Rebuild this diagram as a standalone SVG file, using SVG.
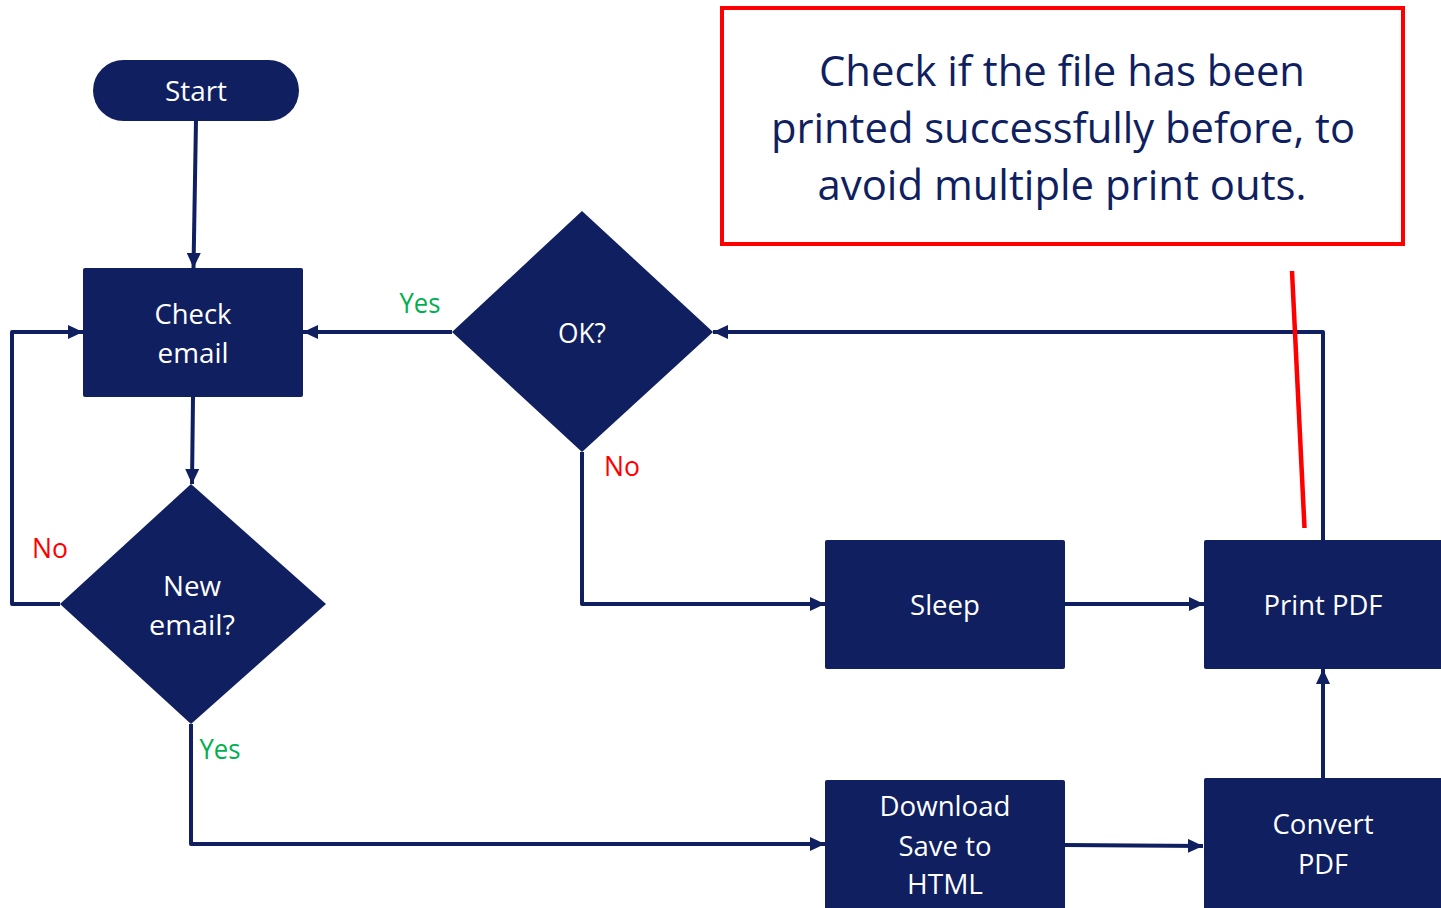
<svg xmlns="http://www.w3.org/2000/svg" width="1441" height="908" viewBox="0 0 1441 908">
<defs>
<style>
.n{fill:#101F5F}
.t{fill:#FFFFFF;font-family:"Open Sans","Noto Sans",sans-serif;font-size:28px;text-anchor:middle;dominant-baseline:central}
.c{fill:none;stroke:#101F5F;stroke-width:4;stroke-linejoin:round}
.g{fill:#00B050;font-family:"Open Sans","Noto Sans",sans-serif;font-size:27px;text-anchor:middle;dominant-baseline:central}
.r{fill:#FF0000;font-family:"Open Sans","Noto Sans",sans-serif;font-size:27px;text-anchor:middle;dominant-baseline:central}
.ct{fill:#101F5F;font-family:"Open Sans","Noto Sans",sans-serif;font-size:42px;text-anchor:middle;dominant-baseline:central}
</style>
<marker id="a" markerUnits="userSpaceOnUse" markerWidth="15" markerHeight="14" refX="15" refY="7" orient="auto">
<path d="M0,0 L15,7 L0,14 z" fill="#101F5F"/>
</marker>
</defs>
<rect width="1441" height="908" fill="#FFFFFF"/>

<g id="connectors">
<path class="c" d="M196,120 L193.5,268" marker-end="url(#a)"/>
<path class="c" d="M193,397 L192,484" marker-end="url(#a)"/>
<path class="c" d="M60,604 L12,604 L12,332 L83,332" marker-end="url(#a)"/>
<path class="c" d="M191,724 L191,844 L825,844" marker-end="url(#a)"/>
<path class="c" d="M452,332 L303,332" marker-end="url(#a)"/>
<path class="c" d="M582,452 L582,604 L825,604" marker-end="url(#a)"/>
<path class="c" d="M1065,604 L1204,604" marker-end="url(#a)"/>
<path class="c" d="M1323,540 L1323,332 L713,332" marker-end="url(#a)"/>
<path class="c" d="M1065,845 L1203,846" marker-end="url(#a)"/>
<path class="c" d="M1323,778 L1323,669" marker-end="url(#a)"/>
</g>

<g id="start">
<rect class="n" x="93" y="60" width="206" height="61" rx="30.5"/>
<text class="t" x="196" y="90" textLength="62" lengthAdjust="spacingAndGlyphs">Start</text>
</g>
<g id="check-email">
<rect class="n" x="83" y="268" width="220" height="129" rx="2"/>
<text class="t" x="193" y="313" textLength="77" lengthAdjust="spacingAndGlyphs">Check</text>
<text class="t" x="193" y="352" textLength="71" lengthAdjust="spacingAndGlyphs">email</text>
</g>
<g id="new-email">
<polygon class="n" points="191,484 326,604 191,724 60,604"/>
<text class="t" x="192" y="585" textLength="58" lengthAdjust="spacingAndGlyphs">New</text>
<text class="t" x="192" y="624" textLength="86" lengthAdjust="spacingAndGlyphs">email?</text>
</g>
<g id="ok">
<polygon class="n" points="582,211 713,332 582,452 452,332"/>
<text class="t" x="582" y="332" font-size="26" textLength="48" lengthAdjust="spacingAndGlyphs">OK?</text>
</g>
<g id="sleep">
<rect class="n" x="825" y="540" width="240" height="129" rx="2"/>
<text class="t" x="945" y="604" textLength="70" lengthAdjust="spacingAndGlyphs">Sleep</text>
</g>
<g id="print-pdf">
<rect class="n" x="1204" y="540" width="245" height="129" rx="2"/>
<text class="t" x="1323" y="604" textLength="119" lengthAdjust="spacingAndGlyphs">Print PDF</text>
</g>
<g id="download">
<rect class="n" x="825" y="780" width="240" height="135" rx="2"/>
<text class="t" x="945" y="805" textLength="131" lengthAdjust="spacingAndGlyphs">Download</text>
<text class="t" x="945" y="845" textLength="93" lengthAdjust="spacingAndGlyphs">Save to</text>
<text class="t" x="945" y="883" textLength="76" lengthAdjust="spacingAndGlyphs">HTML</text>
</g>
<g id="convert-pdf">
<rect class="n" x="1204" y="778" width="245" height="137" rx="2"/>
<text class="t" x="1323" y="823" textLength="101" lengthAdjust="spacingAndGlyphs">Convert</text>
<text class="t" x="1323" y="863" textLength="50" lengthAdjust="spacingAndGlyphs">PDF</text>
</g>

<g id="labels">
<text class="g" x="420" y="302" textLength="41" lengthAdjust="spacingAndGlyphs">Yes</text>
<text class="r" x="50" y="547" textLength="36" lengthAdjust="spacingAndGlyphs">No</text>
<text class="g" x="220" y="748" textLength="41" lengthAdjust="spacingAndGlyphs">Yes</text>
<text class="r" x="622" y="465" textLength="36" lengthAdjust="spacingAndGlyphs">No</text>
</g>

<g id="callout">
<rect x="722" y="8" width="681" height="236" fill="#FFFFFF" stroke="#FF0000" stroke-width="4"/>
<text class="ct" x="1062" y="69" textLength="486" lengthAdjust="spacingAndGlyphs">Check if the file has been</text>
<text class="ct" x="1063" y="126" textLength="584" lengthAdjust="spacingAndGlyphs">printed successfully before, to</text>
<text class="ct" x="1062" y="183" textLength="489" lengthAdjust="spacingAndGlyphs">avoid multiple print outs.</text>
<path d="M1292,271 L1304.5,528" stroke="#FF0000" stroke-width="4.5" fill="none"/>
</g>
</svg>
